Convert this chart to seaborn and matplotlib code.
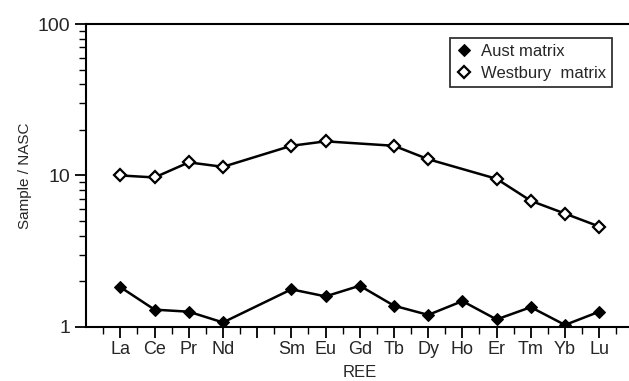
import pandas as pd
import numpy as np
import matplotlib
matplotlib.use("Agg")
import matplotlib.pyplot as plt
import seaborn as sns
from matplotlib.ticker import FixedLocator, NullFormatter

# REE order (Pm left empty on the axis)
elements = ["La", "Ce", "Pr", "Nd", "Pm", "Sm", "Eu", "Gd", "Tb", "Dy", "Ho", "Er", "Tm", "Yb", "Lu"]
tick_labels = ["La", "Ce", "Pr", "Nd", "", "Sm", "Eu", "Gd", "Tb", "Dy", "Ho", "Er", "Tm", "Yb", "Lu"]

aust_elements = ["La", "Ce", "Pr", "Nd", "Sm", "Eu", "Gd", "Tb", "Dy", "Ho", "Er", "Tm", "Yb", "Lu"]
aust_values = [1.83, 1.30, 1.26, 1.07, 1.77, 1.59, 1.87, 1.38, 1.20, 1.48, 1.12, 1.35, 1.03, 1.26]

west_elements = ["La", "Ce", "Pr", "Nd", "Sm", "Eu", "Tb", "Dy", "Er", "Tm", "Yb", "Lu"]
west_values = [10.0, 9.7, 12.2, 11.4, 15.7, 16.8, 15.7, 12.8, 9.5, 6.8, 5.6, 4.6]

pos = {e: i for i, e in enumerate(elements)}
aust = pd.DataFrame({"pos": [pos[e] for e in aust_elements], "val": aust_values})
west = pd.DataFrame({"pos": [pos[e] for e in west_elements], "val": west_values})

sns.set_style("ticks")
plt.rcParams['font.family'] = ['Liberation Sans', 'DejaVu Sans']

fig = plt.figure(figsize=(6.29, 3.81), dpi=100)
ax = fig.add_axes([0.137, 0.142, 0.87, 0.795])

sns.lineplot(data=aust, x="pos", y="val", ax=ax, color="black", lw=1.8,
             marker="D", markersize=6, markerfacecolor="black",
             markeredgecolor="black", label="Aust matrix")
sns.lineplot(data=west, x="pos", y="val", ax=ax, color="black", lw=1.8,
             marker="D", markersize=6, markerfacecolor="white",
             markeredgecolor="black", markeredgewidth=1.6, label="Westbury  matrix")

ax.set_yscale("log")
ax.set_ylim(1, 100)
ax.set_xlim(-1, 15)
ax.set_yticks([1, 10, 100])
ax.set_yticklabels(["1", "10", "100"], fontsize=14)
ax.yaxis.set_minor_formatter(NullFormatter())

ax.set_xticks(range(len(elements)))
ax.set_xticklabels(tick_labels, fontsize=13)
ax.xaxis.set_minor_locator(FixedLocator(np.arange(-0.5, 15, 1.0)))

ax.tick_params(axis="both", which="major", direction="out", length=8, width=1.3, color="black")
ax.tick_params(axis="both", which="minor", direction="out", length=5, width=1.0, color="black")
ax.tick_params(axis="x", which="major", pad=2)

for s in ["left", "bottom", "top"]:
    ax.spines[s].set_linewidth(1.5)
    ax.spines[s].set_color("black")
ax.spines["right"].set_visible(False)

ax.set_xlabel("REE", fontsize=12, labelpad=5)
ax.set_ylabel("Sample / NASC", fontsize=11)

leg = ax.legend(loc="upper right", bbox_to_anchor=(0.96, 0.953), borderaxespad=0,
                fontsize=12, frameon=True, fancybox=False, edgecolor="black",
                handlelength=1.0, borderpad=0.35, labelspacing=0.4,
                handletextpad=0.5)
leg.get_frame().set_linewidth(1.3)
for line in leg.get_lines():
    line.set_linestyle("")

fig.savefig("out.png", dpi=100)
